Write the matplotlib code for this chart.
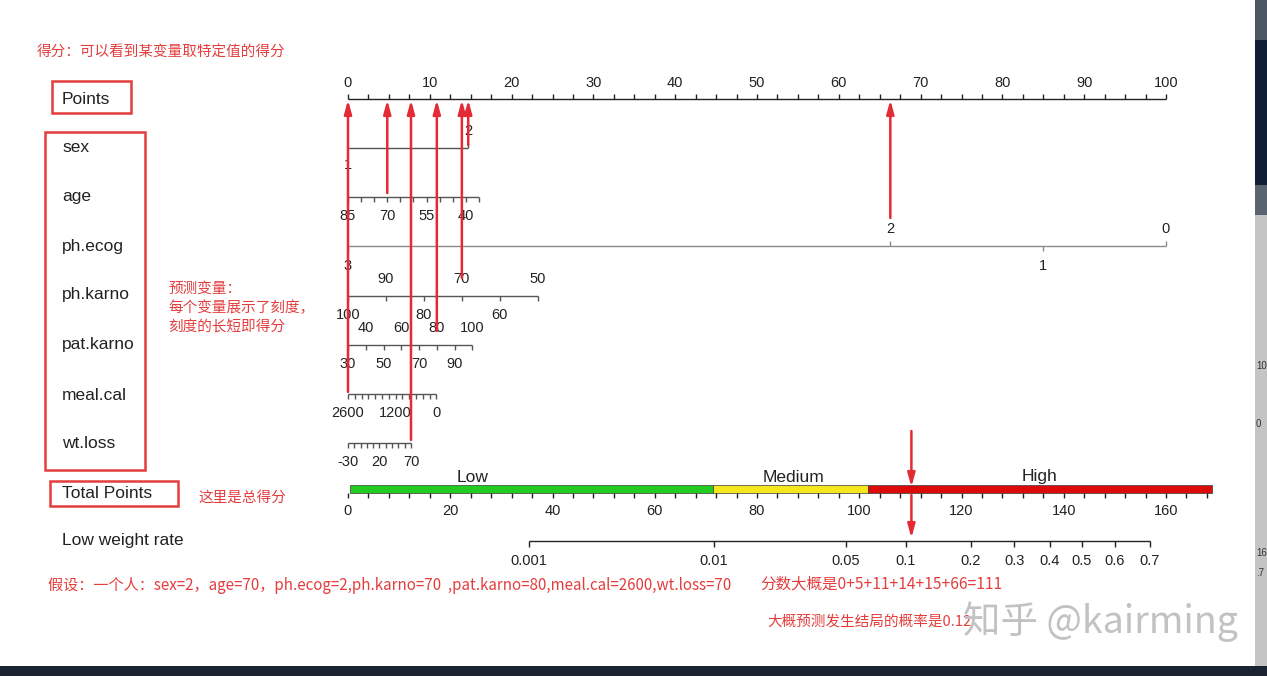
import numpy as np
import matplotlib
matplotlib.use("Agg")
import matplotlib.pyplot as plt
from matplotlib.patches import Rectangle

# -------------------------------
# Nomogram data
# -------------------------------
POINTS_MAJOR = [0, 10, 20, 30, 40, 50, 60, 70, 80, 90, 100]

SEX_VALUES = [1, 2]
SEX_POINTS = [0.0, 14.7]

AGE_TICKS = [85, 80, 75, 70, 65, 60, 55, 50, 45, 40, 35]
AGE_LABELS = [85, 70, 55, 40]
AGE_RANGE = (85, 35)
AGE_PTS = (0.0, 16.0)

ECOG_VALUES = [3, 2, 1, 0]
ECOG_POINTS = [0.0, 66.3, 85.0, 100.0]
ECOG_ABOVE = [2, 0]

PHK_TICKS = [100, 90, 80, 70, 60, 50]
PHK_ABOVE = [90, 70, 50]
PHK_RANGE = (100, 50)
PHK_PTS = (0.0, 23.2)

PATK_TICKS = [30, 40, 50, 60, 70, 80, 90, 100]
PATK_ABOVE = [40, 60, 80, 100]
PATK_RANGE = (30, 100)
PATK_PTS = (0.0, 15.2)

MEAL_TICKS = [2600, 2400, 2200, 2000, 1800, 1600, 1400, 1200, 1000, 800, 600, 400, 200, 0]
MEAL_LABELS = [2600, 1200, 0]
MEAL_RANGE = (2600, 0)
MEAL_PTS = (0.0, 10.8)

WT_TICKS = [-30, -20, -10, 0, 10, 20, 30, 40, 50, 60, 70]
WT_LABELS = [-30, 20, 70]
WT_RANGE = (-30, 70)
WT_PTS = (0.0, 7.7)

TOTAL_MAX = 160          # total points shown at the right end of the Points scale
TOTAL_LABELS = [0, 20, 40, 60, 80, 100, 120, 140, 160]
TOTAL_TICK_STEP = 4
RISK_NAMES = ["Low", "Medium", "High"]
RISK_EDGES = [0.4, 71.4, 101.7, 168.9]
RISK_LABEL_AT = [24.4, 87.1, 135.3]
RISK_COLORS = ["#22cc22", "#f5e61e", "#dd0a0a"]

PROB_LABELS = [0.001, 0.01, 0.05, 0.1, 0.2, 0.3, 0.4, 0.5, 0.6, 0.7]
LP_INTERCEPT = -9.16
LP_SLOPE = 0.0638

# example patient (points read where the arrows start)
EXAMPLE = {"sex": 2, "age": 70, "ph.ecog": 2, "ph.karno": 70,
           "pat.karno": 80, "meal.cal": 2600, "wt.loss": 70}
EXAMPLE_TOTAL = 110.2

# -------------------------------
# Layout
# -------------------------------
W, H = 1267, 676
X0, PX_PER_PT = 348, 8.18
ROW_Y = {"Points": 99, "sex": 148, "age": 197, "ph.ecog": 246, "ph.karno": 296,
         "pat.karno": 345, "meal.cal": 394, "wt.loss": 443, "Total Points": 489,
         "Low weight rate": 541}
LABEL_Y = {"Points": 100, "sex": 148, "age": 196, "ph.ecog": 246, "ph.karno": 295,
           "pat.karno": 345, "meal.cal": 395, "wt.loss": 444, "Total Points": 494,
           "Low weight rate": 541}
RED = "#e43d3d"
INK = "#222222"
LINE = "#555555"
SANS = ["Liberation Sans", "DejaVu Sans"]
CJK = ["Noto Sans CJK SC", "DejaVu Sans"]
TICK_FS = 10.5
LAB_FS = 12.5


def lin(v, rng, pts):
    return pts[0] + (v - rng[0]) * (pts[1] - pts[0]) / (rng[1] - rng[0])


def total_to_pts(t):
    return np.asarray(t, dtype=float) * 100.0 / TOTAL_MAX


def prob_to_total(p):
    p = np.asarray(p, dtype=float)
    return (np.log(p / (1 - p)) - LP_INTERCEPT) / LP_SLOPE


fig = plt.figure(figsize=(W / 100, H / 100), dpi=100)
ax = fig.add_axes([0, 0, 1, 1])
ax.set_xlim(-X0 / PX_PER_PT, (W - X0) / PX_PER_PT)
ax.set_ylim(H, 0)
ax.axis("off")


def tick_text(x, y, s, **kw):
    ax.text(x, y, s, ha="center", va="center", fontsize=TICK_FS, color=INK,
            family=SANS, **kw)


def scale_row(y, xs, labels_at, label_txt, above, tick_up=False, color=LINE):
    ax.hlines(y, min(xs), max(xs), color=color, lw=1.0)
    ax.vlines(xs, y, y - 5 if tick_up else y + 5, color=color, lw=1.0)
    for x, s, up in zip(labels_at, label_txt, above):
        tick_text(x, y - 17 if up else y + 19, s)


# Points axis
py = ROW_Y["Points"]
minor = np.arange(0, 100.01, 2.5)
ax.hlines(py, 0, 100, color=INK, lw=1.0)
ax.vlines(minor, py, py - 5, color=INK, lw=1.0)
for v in POINTS_MAJOR:
    tick_text(v, py - 16, str(v))

# sex
sy = ROW_Y["sex"]
ax.hlines(sy, SEX_POINTS[0], SEX_POINTS[1], color=LINE, lw=1.0)
ax.vlines(SEX_POINTS[1], sy, sy - 5, color=LINE, lw=1.0)
tick_text(SEX_POINTS[1], sy - 17, str(SEX_VALUES[1]))
tick_text(SEX_POINTS[0], sy + 17, str(SEX_VALUES[0]))

# age
xs = [lin(v, AGE_RANGE, AGE_PTS) for v in AGE_TICKS]
lx = [lin(v, AGE_RANGE, AGE_PTS) for v in AGE_LABELS]
scale_row(ROW_Y["age"], xs, lx, AGE_LABELS, [False] * len(AGE_LABELS))

# ph.ecog
ey = ROW_Y["ph.ecog"]
ax.hlines(ey, 0, 100, color="#8a8a8a", lw=1.0)
for v, p in zip(ECOG_VALUES, ECOG_POINTS):
    up = v in ECOG_ABOVE
    ax.vlines(p, ey, ey - 5 if up else ey + 5, color="#8a8a8a", lw=1.0)
    tick_text(p, ey - 17 if up else ey + 20, str(v))

# ph.karno
xs = [lin(v, PHK_RANGE, PHK_PTS) for v in PHK_TICKS]
scale_row(ROW_Y["ph.karno"], xs, xs, PHK_TICKS, [v in PHK_ABOVE for v in PHK_TICKS])

# pat.karno
xs = [lin(v, PATK_RANGE, PATK_PTS) for v in PATK_TICKS]
scale_row(ROW_Y["pat.karno"], xs, xs, PATK_TICKS, [v in PATK_ABOVE for v in PATK_TICKS])

# meal.cal
xs = [lin(v, MEAL_RANGE, MEAL_PTS) for v in MEAL_TICKS]
lx = [lin(v, MEAL_RANGE, MEAL_PTS) for v in MEAL_LABELS]
scale_row(ROW_Y["meal.cal"], xs, lx, MEAL_LABELS, [False] * len(MEAL_LABELS))

# wt.loss
xs = [lin(v, WT_RANGE, WT_PTS) for v in WT_TICKS]
lx = [lin(v, WT_RANGE, WT_PTS) for v in WT_LABELS]
scale_row(ROW_Y["wt.loss"], xs, lx, WT_LABELS, [False] * len(WT_LABELS))

# Total points with risk bands
ty = ROW_Y["Total Points"]
for name, lo, hi, at, col in zip(RISK_NAMES, RISK_EDGES[:-1], RISK_EDGES[1:],
                                 RISK_LABEL_AT, RISK_COLORS):
    a, b = total_to_pts([lo, hi])
    ax.barh(ty, b - a, left=a, height=8, color=col, edgecolor="#3a3a3a", lw=0.5)
    ax.text(total_to_pts(at), ty - 12, name, ha="center", va="center", fontsize=LAB_FS,
            color=INK, family=SANS)
tt = total_to_pts(np.arange(0, RISK_EDGES[-1], TOTAL_TICK_STEP))
ax.vlines(tt, ty + 4, ty + 9, color=INK, lw=1.0)
for v in TOTAL_LABELS:
    tick_text(total_to_pts(v), ty + 22, str(v))

# probability axis
qy = ROW_Y["Low weight rate"]
px = total_to_pts(prob_to_total(PROB_LABELS))
ax.hlines(qy, px[0], px[-1], color=INK, lw=1.0)
ax.vlines(px, qy, qy + 6, color=INK, lw=1.0)
for x, v in zip(px, PROB_LABELS):
    tick_text(x, qy + 20, f"{v:g}")

# -------------------------------
# Red annotation arrows
# -------------------------------
arrow_kw = dict(arrowstyle="-|>,head_length=0.8,head_width=0.22", color="#e32a35",
                lw=1.8, shrinkA=0, shrinkB=0)
starts = [
    (lin(EXAMPLE["meal.cal"], MEAL_RANGE, MEAL_PTS), ROW_Y["meal.cal"] - 2),
    (lin(EXAMPLE["age"], AGE_RANGE, AGE_PTS), ROW_Y["age"] - 4),
    (lin(EXAMPLE["wt.loss"], WT_RANGE, WT_PTS), ROW_Y["wt.loss"] - 3),
    (lin(EXAMPLE["pat.karno"], PATK_RANGE, PATK_PTS), ROW_Y["pat.karno"] - 14),
    (lin(EXAMPLE["ph.karno"], PHK_RANGE, PHK_PTS), ROW_Y["ph.karno"] - 18),
    (SEX_POINTS[SEX_VALUES.index(EXAMPLE["sex"])], ROW_Y["sex"] - 3),
    (ECOG_POINTS[ECOG_VALUES.index(EXAMPLE["ph.ecog"])], ROW_Y["ph.ecog"] - 28),
]
for x, y in starts:
    ax.annotate("", xy=(x, py + 1), xytext=(x, y), arrowprops=arrow_kw, zorder=5)

xt = total_to_pts(EXAMPLE_TOTAL)
ax.annotate("", xy=(xt, ty - 2), xytext=(xt, ty - 58), arrowprops=arrow_kw, zorder=5)
ax.annotate("", xy=(xt, qy - 3), xytext=(xt, ty + 6), arrowprops=arrow_kw, zorder=5)

# -------------------------------
# Overlay in pixel coordinates: labels, boxes, notes, screen edges
# -------------------------------
ov = fig.add_axes([0, 0, 1, 1])
ov.set_xlim(0, W)
ov.set_ylim(H, 0)
ov.axis("off")

for name, y in LABEL_Y.items():
    ov.text(62, y, name, ha="left", va="center", fontsize=LAB_FS, color=INK, family=SANS)

for (x0, y0, x1, y1) in [(52, 81, 131, 113), (45, 132, 145, 470), (50, 481, 178, 506)]:
    ov.add_patch(Rectangle((x0, y0), x1 - x0, y1 - y0, fill=False, ec=RED, lw=1.8))

notes = [
    (37, 53, "得分：可以看到某变量取特定值的得分", 10.5),
    (168, 289, "预测变量：", 10.5),
    (168, 308, "每个变量展示了刻度，", 10.5),
    (168, 327, "刻度的长短即得分", 10.5),
    (198, 498, "这里是总得分", 10.5),
    (48, 586, "假设：一个人：sex=2，age=70，ph.ecog=2,ph.karno=70  ,pat.karno=80,meal.cal=2600,wt.loss=70", 10.9),
    (760, 584, "分数大概是0+5+11+14+15+66=111", 11.2),
    (767, 622, "大概预测发生结局的概率是0.12", 10.5),
]
for x, y, s, fs in notes:
    ov.text(x, y, s, ha="left", va="center", fontsize=fs, color=RED, family=CJK)

ov.text(1100, 622, "知乎 @kairming", ha="center", va="center", fontsize=27,
        color="#c2c2c2", family=CJK)

# screen edges
ov.add_patch(Rectangle((1255, 0), 12, H, color="#c4c4c4", lw=0))
ov.add_patch(Rectangle((1255, 0), 12, 40, color="#4c5563", lw=0))
ov.add_patch(Rectangle((1255, 40), 12, 145, color="#0e1d33", lw=0))
ov.add_patch(Rectangle((1255, 185), 12, 30, color="#5a6370", lw=0))
ov.add_patch(Rectangle((0, 666), W, 10, color="#1b2430", lw=0))
for y, s in [(366, "10"), (424, "0"), (553, "16"), (573, ".7")]:
    ov.text(1256, y, s, ha="left", va="center", fontsize=7, color="#333333",
            family=SANS)

fig.savefig("out.png", dpi=100)
